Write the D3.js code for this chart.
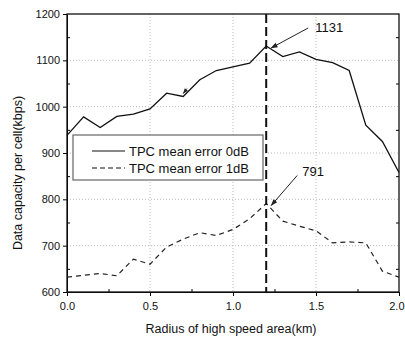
<!DOCTYPE html>
<html>
<head>
<meta charset="utf-8">
<script src="https://cdn.jsdelivr.net/npm/d3@7"></script>
<style>
  html, body { margin: 0; padding: 0; background: #fff; }
  svg { display: block; font-family: "Liberation Sans", Arial, sans-serif; }
</style>
</head>
<body>
<div id="chart"></div>
<script>
// radius of high speed area (km), 0.1 steps
const radius = [0.0, 0.1, 0.2, 0.3, 0.4, 0.5, 0.6, 0.7, 0.8, 0.9, 1.0,
                1.1, 1.2, 1.3, 1.4, 1.5, 1.6, 1.7, 1.8, 1.9, 2.0];
const err0dB = [938, 978, 955, 979, 984, 995, 1029, 1022, 1058, 1078, 1086,
                1094, 1131, 1108, 1118, 1102, 1095, 1078, 960, 925, 858];
const err1dB = [632, 636, 640, 635, 671, 660, 697, 714, 728, 722, 735,
                758, 791, 753, 742, 732, 706, 708, 706, 645, 632];
const seriesNames = ["TPC mean error 0dB", "TPC mean error 1dB"];
const xTicks = [0, 0.5, 1.0, 1.5, 2.0];
const yTicks = [600, 700, 800, 900, 1000, 1100, 1200];
const peakRadius = 1.2;

const width = 405, height = 339;
const margin = {top: 14, right: 6, bottom: 47, left: 67};

const x = d3.scaleLinear().domain([0, 2]).range([margin.left, width - margin.right]);
const y = d3.scaleLinear().domain([600, 1200]).range([height - margin.bottom, margin.top]);

const svg = d3.select("#chart").append("svg")
    .attr("width", width)
    .attr("height", height)
    .attr("viewBox", [0, 0, width, height]);

svg.append("rect").attr("width", width).attr("height", height).attr("fill", "#fff");

const defs = svg.append("defs");
defs.append("marker")
    .attr("id", "arrow")
    .attr("viewBox", "0 0 10 10")
    .attr("refX", 9).attr("refY", 5)
    .attr("markerWidth", 9).attr("markerHeight", 7)
    .attr("orient", "auto")
    .append("path")
    .attr("d", "M0,1.5L10,5L0,8.5z")
    .attr("fill", "#222");

// dotted grid
svg.append("g")
    .selectAll("line")
    .data(xTicks.slice(1, -1))
    .join("line")
    .attr("x1", d => x(d)).attr("x2", d => x(d))
    .attr("y1", y(1200)).attr("y2", y(600))
    .attr("stroke", "#aaa")
    .attr("stroke-width", 0.8)
    .attr("stroke-dasharray", "1,2");

svg.append("g")
    .selectAll("line")
    .data(yTicks.slice(1, -1))
    .join("line")
    .attr("x1", x(0)).attr("x2", x(2))
    .attr("y1", d => y(d)).attr("y2", d => y(d))
    .attr("stroke", "#aaa")
    .attr("stroke-width", 0.8)
    .attr("stroke-dasharray", "1,2");

// minor ticks, pointing inward
const minorX = d3.range(0.25, 2, 0.5);
const minorY = d3.range(650, 1200, 100);

svg.append("g")
    .attr("transform", `translate(0,${y(600)})`)
    .call(d3.axisBottom(x).tickValues(minorX).tickSize(-3).tickFormat(""))
    .call(g => g.select(".domain").remove());
svg.append("g")
    .attr("transform", `translate(${x(0)},0)`)
    .call(d3.axisLeft(y).tickValues(minorY).tickSize(-3).tickFormat(""))
    .call(g => g.select(".domain").remove());
svg.append("g")
    .attr("transform", `translate(${x(2)},0)`)
    .call(d3.axisRight(y).tickValues(minorY).tickSize(-3).tickFormat(""))
    .call(g => g.select(".domain").remove());

// main axes
svg.append("g")
    .attr("transform", `translate(0,${y(600)})`)
    .call(d3.axisBottom(x).tickValues(xTicks).tickSize(4).tickPadding(6).tickFormat(d3.format(".1f")))
    .call(g => g.selectAll("text").attr("font-size", 11).attr("fill", "#111"))
    .call(g => g.selectAll(".tick").filter(d => d === 2).select("text")
        .attr("text-anchor", "end").attr("dx", 5));

svg.append("g")
    .attr("transform", `translate(${x(0)},0)`)
    .call(d3.axisLeft(y).tickValues(yTicks).tickSize(4).tickPadding(3).tickFormat(d3.format("d")))
    .call(g => g.selectAll("text").attr("font-size", 11).attr("fill", "#111"));

// frame
svg.append("rect")
    .attr("x", x(0)).attr("y", y(1200))
    .attr("width", x(2) - x(0)).attr("height", y(600) - y(1200))
    .attr("fill", "none")
    .attr("stroke", "#111")
    .attr("stroke-width", 1.3);

// series
const line = d3.line()
    .x((d, i) => x(radius[i]))
    .y(d => y(d));

svg.append("path")
    .attr("d", line(err0dB))
    .attr("fill", "none")
    .attr("stroke", "#111")
    .attr("stroke-width", 1.3);

svg.append("path")
    .attr("d", line(err1dB))
    .attr("fill", "none")
    .attr("stroke", "#222")
    .attr("stroke-width", 1.2)
    .attr("stroke-dasharray", "5,4");

// vertical marker at the peak radius
svg.append("line")
    .attr("x1", x(peakRadius)).attr("x2", x(peakRadius))
    .attr("y1", y(1200)).attr("y2", y(600))
    .attr("stroke", "#111")
    .attr("stroke-width", 2)
    .attr("stroke-dasharray", "9,4");

// peak annotations
const peakIdx = radius.indexOf(peakRadius);
const notes = [
    {value: err0dB[peakIdx], dx: 42, dy: -18, tx: 49, ty: -14},
    {value: err1dB[peakIdx], dx: 31, dy: -28, tx: 36, ty: -28}
];
notes.forEach(n => {
    const px = x(peakRadius), py = y(n.value);
    svg.append("line")
        .attr("x1", px + n.dx).attr("y1", py + n.dy)
        .attr("x2", px + 5).attr("y2", py + 2)
        .attr("stroke", "#222")
        .attr("stroke-width", 1)
        .attr("marker-end", "url(#arrow)");
    svg.append("text")
        .attr("x", px + n.tx).attr("y", py + n.ty)
        .attr("font-size", 13)
        .attr("fill", "#111")
        .text(n.value);
});

// small stray arrow mark near 0.7 km on the 0dB curve
svg.append("line")
    .attr("x1", x(0.7) + 4).attr("y1", y(err0dB[7]) - 8)
    .attr("x2", x(0.7)).attr("y2", y(err0dB[7]) - 3)
    .attr("stroke", "#333")
    .attr("stroke-width", 0.8)
    .attr("marker-end", "url(#arrow)");

// legend
const legend = svg.append("g").attr("transform", "translate(73,135)");
legend.append("rect")
    .attr("width", 190).attr("height", 45)
    .attr("fill", "#fff")
    .attr("stroke", "#666")
    .attr("stroke-width", 1.2);
seriesNames.forEach((name, i) => {
    const ly = 16 + i * 17;
    legend.append("line")
        .attr("x1", 19).attr("x2", 52)
        .attr("y1", ly).attr("y2", ly)
        .attr("stroke", "#111")
        .attr("stroke-width", 1.2)
        .attr("stroke-dasharray", i === 0 ? null : "5,3");
    legend.append("text")
        .attr("x", 56).attr("y", ly + 5)
        .attr("font-size", 13)
        .attr("fill", "#111")
        .text(name);
});

// axis titles
svg.append("text")
    .attr("x", (x(0) + x(2)) / 2 - 2)
    .attr("y", 333)
    .attr("text-anchor", "middle")
    .attr("font-size", 12.5)
    .attr("fill", "#111")
    .text("Radius of high speed area(km)");

svg.append("text")
    .attr("transform", `translate(22,${(y(600) + y(1200)) / 2 + 20}) rotate(-90)`)
    .attr("text-anchor", "middle")
    .attr("font-size", 12.5)
    .attr("fill", "#111")
    .text("Data capacity per cell(kbps)");
</script>
</body>
</html>
